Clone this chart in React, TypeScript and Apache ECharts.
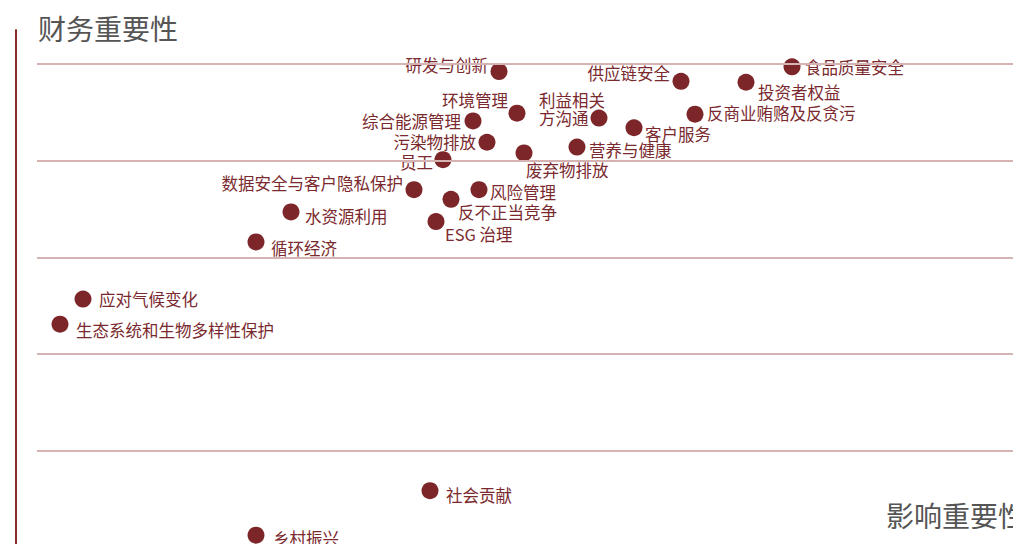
import React, { useEffect, useRef } from "react";
import * as echarts from "echarts";

// Topic names
const topics: string[] = [
  "研发与创新",
  "环境管理",
  "综合能源管理",
  "利益相关\n方沟通",
  "污染物排放",
  "员工",
  "废弃物排放",
  "营养与健康",
  "供应链安全",
  "投资者权益",
  "食品质量安全",
  "反商业贿赂及反贪污",
  "客户服务",
  "数据安全与客户隐私保护",
  "风险管理",
  "反不正当竞争",
  "ESG 治理",
  "水资源利用",
  "循环经济",
  "应对气候变化",
  "生态系统和生物多样性保护",
  "社会贡献",
  "乡村振兴",
];

// Impact materiality (x)
const impactValues: number[] = [
  4.62, 4.8, 4.36, 5.62, 4.5, 4.06, 4.87, 5.4, 6.44, 7.09, 7.55, 6.58, 5.97,
  3.77, 4.42, 4.14, 3.99, 2.54, 2.19, 0.46, 0.23, 3.93, 2.19,
];

// Financial materiality (y)
const financialValues: number[] = [
  4.92, 4.49, 4.41, 4.44, 4.19, 4.01, 4.08, 4.14, 4.82, 4.81, 4.97, 4.48, 4.34,
  3.7, 3.7, 3.6, 3.37, 3.47, 3.16, 2.57, 2.31, 0.59, 0.13,
];

// Reference lines on the financial axis
const levelLines: number[] = [1, 2, 3, 4, 5];

const yAxisTitle = "财务重要性";
const xAxisTitle = "影响重要性";

// Label placement (align, offset x, offset y) per topic
const labelPlacement: Record<string, [string, number, number]> = {
  "研发与创新": ["right", -11, -7],
  "环境管理": ["right", -9, -13],
  "综合能源管理": ["right", -12, 0],
  "利益相关\n方沟通": ["left", -60, -9],
  "污染物排放": ["right", -11, 0],
  "员工": ["right", -10, 2],
  "废弃物排放": ["left", 2, 17],
  "营养与健康": ["left", 12, 3],
  "供应链安全": ["right", -11, -8],
  "投资者权益": ["left", 12, 10],
  "食品质量安全": ["left", 13, 0],
  "反商业贿赂及反贪污": ["left", 12, -1],
  "客户服务": ["left", 11, 6],
  "数据安全与客户隐私保护": ["right", -11, -7],
  "风险管理": ["left", 11, 2],
  "反不正当竞争": ["left", 7, 13],
  "ESG 治理": ["left", 9, 12],
  "水资源利用": ["left", 14, 4],
  "循环经济": ["left", 15, 6],
  "应对气候变化": ["left", 16, 0],
  "生态系统和生物多样性保护": ["left", 16, 6],
  "社会贡献": ["left", 16, 4],
  "乡村振兴": ["left", 17, 3],
};

const FONT = '"Noto Sans CJK SC", "Noto Sans", sans-serif';
const DOT = "#7d2629";
const LABEL = "#7a2a2e";

export default function App() {
  const ref = useRef<HTMLDivElement>(null);

  useEffect(() => {
    if (!ref.current) return;
    const chart = echarts.init(ref.current, undefined, { renderer: "svg" });

    const points = topics.map((name, i) => {
      const p = labelPlacement[name] || ["left", 12, 0];
      return {
        name,
        value: [impactValues[i], financialValues[i]],
        label: {
          show: true,
          position: "inside",
          align: p[0],
          verticalAlign: "middle",
          offset: [p[1], p[2]],
          formatter: "{b}",
        },
      };
    });

    chart.setOption({
      animation: false,
      grid: { left: 37, top: 30, width: 1000, height: 517.75 },
      xAxis: {
        type: "value",
        min: 0,
        max: 10,
        axisLine: { show: false, onZero: false },
        axisTick: { show: false },
        axisLabel: { show: false },
        splitLine: { show: false },
      },
      yAxis: {
        type: "value",
        min: 0,
        max: 5.35,
        offset: 21,
        axisLine: {
          show: true,
          onZero: false,
          lineStyle: { color: "#8a2b30", width: 2 },
        },
        axisTick: { show: false },
        axisLabel: { show: false },
        splitLine: { show: false },
      },
      graphic: [
        {
          type: "text",
          left: 38,
          top: 14,
          style: {
            text: yAxisTitle,
            fontSize: 28,
            fontFamily: FONT,
            fill: "#555555",
          },
        },
        {
          type: "text",
          left: 886,
          top: 501,
          style: {
            text: xAxisTitle,
            fontSize: 28,
            fontFamily: FONT,
            fill: "#555555",
          },
        },
      ],
      series: [
        {
          type: "line",
          data: [],
          silent: true,
          z: 1,
          markLine: {
            silent: true,
            symbol: "none",
            label: { show: false },
            lineStyle: { color: "#d5b3b3", width: 2, type: "solid" },
            data: levelLines.map((v) => ({ yAxis: v })),
          },
        },
        {
          type: "scatter",
          z: 3,
          symbol: "circle",
          symbolSize: 17,
          itemStyle: { color: DOT, opacity: 1 },
          label: {
            color: LABEL,
            fontSize: 16.5,
            fontFamily: FONT,
            lineHeight: 18,
          },
          emphasis: { disabled: true },
          data: points,
        },
      ],
    });

    return () => chart.dispose();
  }, []);

  return (
    <div
      style={{
        position: "fixed",
        left: 0,
        top: 0,
        width: 1013,
        height: 544,
        overflow: "hidden",
        background: "#ffffff",
      }}
    >
      <div ref={ref} style={{ width: 1100, height: 620 }} />
    </div>
  );
}
